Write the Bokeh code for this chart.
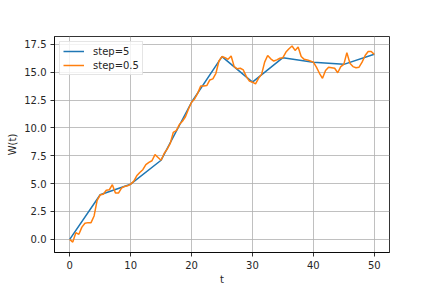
from bokeh.plotting import figure
from bokeh.models import FixedTicker, NumeralTickFormatter, Range1d, Legend, LegendItem
from bokeh.embed import file_html
from bokeh.resources import INLINE

# step = 5 samples
t_coarse = [0, 5, 10, 15, 20, 25, 30, 35, 40, 45, 50]
w_coarse = [0.0, 4.0, 4.95, 7.1, 12.3, 16.4, 14.1, 16.3, 15.9, 15.7, 16.6]

# step = 0.5 samples
t_fine = [i * 0.5 for i in range(101)]
w_fine = [
    0.0, -0.25, 0.6, 0.45, 1.1, 1.45, 1.5, 1.5, 2.1, 3.5,
    4.0, 4.05, 4.4, 4.45, 4.9, 4.15, 4.15, 4.6, 4.75, 4.8,
    4.95, 5.2, 5.7, 6.0, 6.25, 6.7, 6.9, 7.05, 7.6, 7.35,
    7.1, 7.7, 8.1, 8.6, 9.6, 9.75, 10.3, 10.6, 11.0, 11.7,
    12.3, 12.6, 13.1, 13.75, 13.75, 13.8, 14.3, 14.4, 14.9, 16.0,
    16.4, 16.3, 16.15, 16.45, 15.5, 15.3, 15.35, 15.2, 14.6, 14.2,
    14.1, 13.95, 14.45, 14.8, 15.9, 16.5, 16.2, 16.0, 16.1, 16.25,
    16.3, 16.8, 17.1, 17.35, 16.95, 17.25, 16.4, 16.15, 16.1, 16.0,
    15.9, 15.45, 14.9, 14.45, 15.15, 15.45, 15.4, 15.35, 14.95, 15.5,
    15.7, 16.75, 15.8, 15.5, 15.4, 15.45, 15.9, 16.5, 16.85, 16.85,
    16.6,
]

x_ticks = [0, 10, 20, 30, 40, 50]
y_ticks = [0, 2.5, 5, 7.5, 10, 12.5, 15, 17.5]
labels = ["step=5", "step=0.5"]

FONT = "DejaVu Sans"

p = figure(width=432, height=288, output_backend="svg", toolbar_location=None,
           x_range=Range1d(-2.5, 52.5), y_range=Range1d(-1.18, 18.2),
           min_border_left=54, min_border_right=43, min_border_top=36, min_border_bottom=36)

p.background_fill_color = "white"
p.border_fill_color = "white"
p.outline_line_color = "black"
p.outline_line_width = 0.8

r1 = p.line(t_coarse, w_coarse, line_color="#1f77b4", line_width=1.5)
r2 = p.line(t_fine, w_fine, line_color="#ff7f0e", line_width=1.5)

for ax in (p.xaxis[0], p.yaxis[0]):
    ax.major_tick_out = 4
    ax.major_tick_in = 0
    ax.minor_tick_out = 0
    ax.minor_tick_in = 0
    ax.axis_line_color = "black"
    ax.axis_line_width = 0.8
    ax.major_tick_line_width = 0.8
    ax.major_label_text_font = FONT
    ax.major_label_text_font_size = "10px"
    ax.major_label_text_color = "#262626"
    ax.axis_label_text_font = FONT
    ax.axis_label_text_font_size = "10px"
    ax.axis_label_text_font_style = "normal"
    ax.axis_label_text_color = "#262626"
    ax.major_label_standoff = 4

p.xaxis[0].ticker = FixedTicker(ticks=x_ticks)
p.yaxis[0].ticker = FixedTicker(ticks=y_ticks)
p.yaxis[0].formatter = NumeralTickFormatter(format="0.0")
p.xaxis[0].axis_label = "t"
p.yaxis[0].axis_label = "W(t)"
p.xaxis[0].axis_label_standoff = 2
p.yaxis[0].axis_label_standoff = 3

p.xgrid[0].ticker = FixedTicker(ticks=x_ticks)
p.ygrid[0].ticker = FixedTicker(ticks=y_ticks)
for g in (p.xgrid[0], p.ygrid[0]):
    g.grid_line_color = "#b0b0b0"
    g.grid_line_width = 0.8

legend = Legend(items=[LegendItem(label=labels[0], renderers=[r1]),
                       LegendItem(label=labels[1], renderers=[r2])],
                location="top_left")
legend.margin = 5
legend.padding = 3
legend.spacing = 2
legend.label_text_font = FONT
legend.label_text_font_size = "10px"
legend.label_text_color = "#262626"
legend.label_height = 12
legend.glyph_height = 12
legend.glyph_width = 21
legend.label_standoff = 9
legend.border_line_color = "#cccccc"
legend.border_line_width = 1
legend.background_fill_alpha = 0.8
p.add_layout(legend)

open("out.html", "w").write(file_html(p, INLINE))
